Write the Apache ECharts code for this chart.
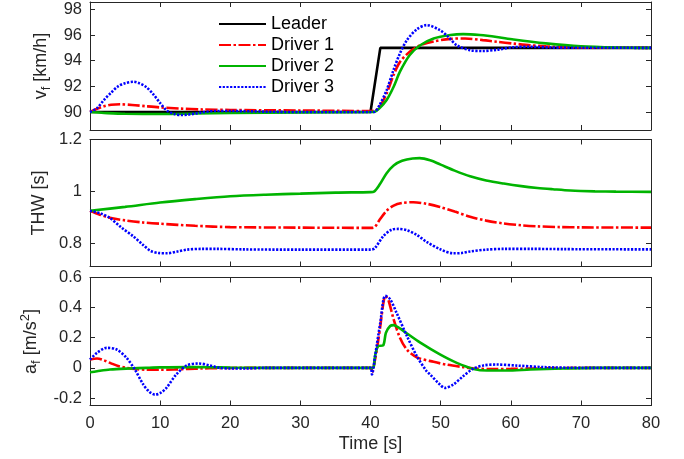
<!DOCTYPE html>
<html>
<head>
<meta charset="utf-8">
<script src="https://cdn.jsdelivr.net/npm/echarts@6/dist/echarts.min.js"></script>
<style>
  html, body { margin: 0; padding: 0; background: #fff; }
  #root { width: 684px; height: 459px; }
</style>
</head>
<body>
<div id="root"></div>
<script>
// ---- data ----
var names = ['Leader', 'Driver 1', 'Driver 2', 'Driver 3'];
var xTicks = [0, 10, 20, 30, 40, 50, 60, 70, 80];

// speed v_f [km/h]
var leaderT = [0, 40, 41.4, 80];
var leaderV = [90, 90, 95, 95];
var d1vT = [0, 1, 2, 3, 4.3, 6, 8, 10, 12.8, 16, 20, 30, 40, 40.6, 41.3, 42.3, 43.3, 44.2, 45.6, 47.1, 49, 51.4, 53.5, 56, 58, 60.4, 62.8, 65, 67.5, 72, 80];
var d1vV = [90, 90.25, 90.45, 90.57, 90.6, 90.55, 90.45, 90.36, 90.27, 90.2, 90.16, 90.12, 90.08, 90.1, 90.4, 91.45, 92.9, 93.9, 94.7, 95.2, 95.5, 95.7, 95.73, 95.6, 95.47, 95.33, 95.2, 95.12, 95.05, 95.01, 95];
var d2vT = [0, 2, 5, 10, 15, 20, 30, 40, 40.6, 41.3, 42.3, 43.3, 44.2, 45.6, 47.1, 49, 51.4, 53.2, 55.6, 58, 60.4, 65, 70, 75, 80];
var d2vV = [90, 89.93, 89.86, 89.85, 89.88, 89.92, 89.97, 90, 90.02, 90.3, 90.93, 91.97, 93.14, 94.44, 95.2, 95.73, 96.0, 96.07, 96.0, 95.85, 95.65, 95.35, 95.12, 95.03, 95];
var d3vT = [0, 1, 2, 3, 4, 5, 6.2, 7, 8, 9, 10, 11, 12, 13, 14, 15, 16, 17, 18, 20, 25, 30, 40, 40.6, 41.3, 42.3, 43.3, 44.2, 45.2, 46.6, 48, 49.9, 51, 52.3, 54.2, 56, 58, 60.4, 63, 66, 80];
var d3vV = [90, 90.3, 90.95, 91.5, 92.0, 92.25, 92.36, 92.25, 91.95, 91.4, 90.7, 90.1, 89.85, 89.77, 89.8, 89.88, 89.98, 90.05, 90.08, 90.08, 90.03, 90, 90, 90.02, 90.55, 91.7, 93.3, 94.57, 95.6, 96.44, 96.77, 96.38, 95.9, 95.2, 94.82, 94.75, 94.85, 95.05, 95.08, 95.02, 95];

// time headway THW [s]
var d1hT = [0, 1.4, 3, 5, 7.5, 10, 15, 20, 30, 40, 40.6, 41.3, 42.3, 43.3, 44.5, 46.1, 48, 49.9, 52, 54.2, 56.5, 59, 61.5, 63.8, 67, 70, 80];
var d1hV = [0.925, 0.91, 0.897, 0.888, 0.88, 0.875, 0.867, 0.862, 0.86, 0.859, 0.862, 0.89, 0.925, 0.945, 0.955, 0.958, 0.952, 0.94, 0.922, 0.902, 0.887, 0.876, 0.869, 0.865, 0.862, 0.861, 0.86];
var d2hT = [0, 5, 10, 15, 20, 25, 30, 35, 40, 40.5, 41.3, 42.3, 43.3, 44.5, 46, 47, 48.5, 50, 52, 54.2, 56.5, 59, 61.5, 63.8, 66, 68.5, 72, 75, 80];
var d2hV = [0.925, 0.94, 0.957, 0.97, 0.981, 0.987, 0.991, 0.995, 0.997, 0.999, 1.026, 1.07, 1.1, 1.118, 1.127, 1.128, 1.12, 1.103, 1.08, 1.058, 1.042, 1.03, 1.02, 1.013, 1.008, 1.003, 1.0, 0.999, 0.998];
var d3hT = [0, 1.5, 2.85, 4.5, 6.2, 7.5, 8.6, 9.8, 11, 12.5, 13.8, 16, 18.1, 22, 30, 40, 40.6, 41.8, 43, 44, 45.2, 46.6, 48, 49.9, 51.8, 53, 54.2, 56.5, 59, 63, 67.5, 80];
var d3hV = [0.925, 0.915, 0.897, 0.86, 0.826, 0.795, 0.771, 0.762, 0.761, 0.768, 0.775, 0.778, 0.778, 0.776, 0.775, 0.775, 0.78, 0.826, 0.852, 0.855, 0.85, 0.832, 0.805, 0.777, 0.761, 0.762, 0.768, 0.775, 0.778, 0.778, 0.777, 0.776];

// acceleration a_f [m/s^2]
var d1aT = [0, 1, 2, 3, 4, 5.2, 6.5, 8, 10, 12, 14, 16, 18, 22, 40, 40.2, 40.65, 41, 41.4, 41.8, 42.1, 42.3, 42.6, 43.3, 44.2, 45.2, 46.6, 49, 51, 53.2, 54.6, 57, 60, 65, 70, 80];
var d1aV = [0.055, 0.062, 0.05, 0.03, 0.012, 0, -0.008, -0.012, -0.013, -0.011, -0.007, -0.004, -0.002, 0, 0, -0.03, 0.055, 0.15, 0.278, 0.42, 0.478, 0.47, 0.444, 0.322, 0.2, 0.12, 0.07, 0.04, 0.02, 0.005, -0.003, -0.008, -0.007, -0.003, 0, 0];
var d2aT = [0, 1, 2.85, 5.7, 8, 10, 14, 17, 20, 25, 40, 40.4, 40.65, 41.1, 41.8, 42.2, 42.8, 43.3, 44.2, 45, 47.1, 49.9, 52.3, 54.7, 56.6, 59.4, 62.8, 67.5, 72, 80];
var d2aV = [-0.029, -0.022, -0.011, -0.004, 0, 0.003, 0.005, 0.004, 0.002, 0, 0, 0, 0.078, 0.144, 0.149, 0.233, 0.278, 0.284, 0.262, 0.235, 0.167, 0.089, 0.033, -0.007, -0.018, -0.018, -0.011, -0.004, 0, 0];
var d3aT = [0, 1, 2.4, 3.8, 5.2, 6.4, 7.6, 8.5, 9.3, 10.1, 10.9, 12.3, 13.8, 15.5, 17.1, 18.5, 20, 22, 25, 40, 40.2, 40.65, 41.4, 42.1, 42.8, 43.7, 45.2, 46.6, 48, 48.5, 49.9, 50.6, 51.8, 53.2, 54.6, 56.1, 58, 60.9, 64.7, 70, 80];
var d3aV = [0.055, 0.1, 0.133, 0.122, 0.067, -0.011, -0.111, -0.16, -0.178, -0.165, -0.133, -0.044, 0.016, 0.029, 0.016, 0, -0.004, -0.004, 0, 0, -0.044, 0.078, 0.3, 0.478, 0.456, 0.367, 0.211, 0.078, -0.022, -0.044, -0.111, -0.133, -0.111, -0.056, -0.007, 0.016, 0.022, 0.015, 0.005, 0, 0];

// ---- styling ----
var font = '"Liberation Sans", Arial, Helvetica, sans-serif';
var axisColor = '#262626';
var colors = ['#000000', '#ff0000', '#00b400', '#0000ff'];
var dashes = ['solid', [12, 2.5, 2.5, 2.5], 'solid', [2.2, 1.5]];

function zip (t, v) {
  var out = [];
  for (var i = 0; i < t.length; i++) out.push([t[i], v[i]]);
  return out;
}

var grids = [
  { left: 90, right: 33, top: 2, height: 128 },
  { left: 90, right: 33, top: 139.5, height: 127 },
  { left: 90, right: 33, top: 277.5, height: 128 }
];

function xAx (g, pos, showLabel) {
  return {
    type: 'value', gridIndex: g, position: pos, min: 0, max: 80, interval: 10,
    axisLine: { show: true, onZero: false, lineStyle: { color: axisColor, width: 1 } },
    axisTick: { show: true, inside: true, length: 5, lineStyle: { color: axisColor } },
    axisLabel: { show: showLabel, color: axisColor, fontSize: 16.5, fontFamily: font, margin: 9 },
    splitLine: { show: false },
    name: showLabel ? 'Time [s]' : '',
    nameLocation: 'middle', nameGap: 30,
    nameTextStyle: { color: axisColor, fontSize: 18, fontFamily: font }
  };
}

function yAx (g, pos, min, max, step, showMax, name, rich) {
  var left = pos === 'left';
  return {
    type: 'value', gridIndex: g, position: pos, min: min, max: max,
    minInterval: step, maxInterval: step, splitNumber: 5,
    axisLine: { show: true, onZero: false, lineStyle: { color: axisColor, width: 1 } },
    axisTick: { show: true, inside: true, length: 5, lineStyle: { color: axisColor } },
    axisLabel: { show: left, color: axisColor, fontSize: 16.5, fontFamily: font, margin: 8,
      showMinLabel: false, showMaxLabel: showMax },
    splitLine: { show: false },
    name: left ? name : '',
    nameLocation: 'middle', nameGap: 33, nameRotate: 90,
    nameTextStyle: { color: axisColor, fontSize: 18, fontFamily: font, rich: rich }
  };
}

var richBase = {
  n: { fontSize: 18, fontFamily: font, color: axisColor, lineHeight: 24, verticalAlign: 'middle' },
  s: { fontSize: 13, fontFamily: font, color: axisColor, lineHeight: 12, verticalAlign: 'bottom' },
  p: { fontSize: 13, fontFamily: font, color: axisColor, lineHeight: 12, verticalAlign: 'top' }
};

var xAxes = [];
var yAxes = [];
for (var g = 0; g < 3; g++) {
  xAxes.push(xAx(g, 'bottom', g === 2));
  xAxes.push(xAx(g, 'top', false));
}
yAxes.push(yAx(0, 'left', 88.6, 98.57, 2, false, '{n|v}{s|f}{n| [km/h]}', richBase));
yAxes.push(yAx(0, 'right', 88.6, 98.57, 2, false, '', richBase));
yAxes.push(yAx(1, 'left', 0.71, 1.2, 0.2, true, '{n|THW [s]}', richBase));
yAxes.push(yAx(1, 'right', 0.71, 1.2, 0.2, true, '', richBase));
yAxes.push(yAx(2, 'left', -0.25, 0.6, 0.2, true, '{n|a}{s|f}{n| [m/s}{p|2}{n|]}', richBase));
yAxes.push(yAx(2, 'right', -0.25, 0.6, 0.2, true, '', richBase));

function line (idx, g, t, v) {
  return {
    name: names[idx], type: 'line', xAxisIndex: 2 * g, yAxisIndex: 2 * g,
    data: zip(t, v), symbol: 'none', showSymbol: false,
    smooth: idx === 0 ? false : 0.3,
    lineStyle: { color: colors[idx], width: 2.6, type: dashes[idx], cap: 'butt' },
    itemStyle: { color: colors[idx] },
    animation: false, silent: true
  };
}

var series = [
  line(0, 0, leaderT, leaderV),
  line(1, 0, d1vT, d1vV),
  line(2, 0, d2vT, d2vV),
  line(3, 0, d3vT, d3vV),
  line(1, 1, d1hT, d1hV),
  line(2, 1, d2hT, d2hV),
  line(3, 1, d3hT, d3hV),
  line(1, 2, d1aT, d1aV),
  line(2, 2, d2aT, d2aV),
  line(3, 2, d3aT, d3aV)
];

var chart = echarts.init(document.getElementById('root'), null, { renderer: 'canvas' });
chart.setOption({
  backgroundColor: '#ffffff',
  animation: false,
  grid: grids,
  xAxis: xAxes,
  yAxis: yAxes,
  legend: {
    orient: 'vertical', left: 218, top: 15, padding: 0,
    itemWidth: 47, itemHeight: 20, itemGap: 3,
    itemStyle: { opacity: 0, borderWidth: 0 },
    textStyle: { fontSize: 18, fontFamily: font, color: '#000000' },
    data: names
  },
  series: series
});
</script>
</body>
</html>
